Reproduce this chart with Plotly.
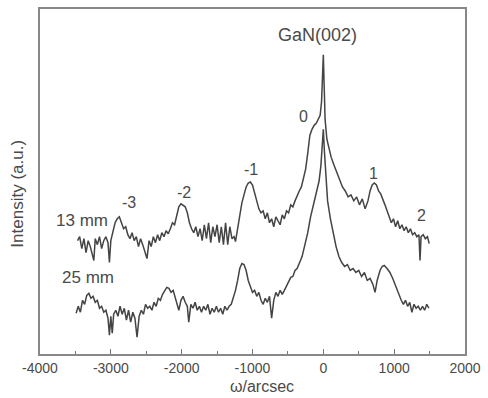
import plotly.graph_objects as go

# 13 mm curve (upper)
x_13mm = [-3470, -3440, -3410, -3380, -3350, -3320, -3290, -3240, -3220, -3190,
          -3160, -3130, -3100, -3070, -3040, -3020, -3000, -2970, -2940, -2910,
          -2880, -2850, -2820, -2790, -2760, -2730, -2700, -2670, -2640, -2610,
          -2580, -2550, -2520, -2490, -2460, -2430, -2400, -2370, -2340, -2310,
          -2280, -2250, -2220, -2190, -2160, -2130, -2100, -2070, -2040, -2010,
          -1980, -1950, -1920, -1890, -1860, -1830, -1800, -1770, -1740, -1710,
          -1680, -1650, -1620, -1590, -1560, -1530, -1500, -1470, -1440, -1410,
          -1380, -1350, -1320, -1290, -1260, -1240, -1210, -1180, -1150, -1120,
          -1090, -1060, -1030, -1000, -970, -940, -910, -880, -850, -820,
          -790, -760, -730, -700, -670, -640, -610, -580, -550, -520,
          -490, -460, -430, -400, -370, -340, -310, -280, -250, -220,
          -190, -160, -130, -100, -70, -45, -25, -10, 0, 10,
          25, 50, 80, 110, 150, 190, 230, 270, 310, 350,
          390, 430, 470, 510, 550, 590, 630, 660, 690, 720,
          750, 780, 810, 840, 870, 900, 930, 960, 990, 1020,
          1050, 1080, 1110, 1140, 1170, 1200, 1230, 1260, 1290, 1320,
          1350, 1365, 1380, 1410, 1440, 1470, 1495]
y_13mm = [114, 118, 106, 116, 102, 114, 108, 94, 116, 110,
          118, 106, 114, 118, 112, 92, 114, 122, 132, 136,
          138, 132, 126, 128, 120, 116, 122, 114, 118, 108,
          116, 110, 102, 96, 114, 108, 118, 112, 120, 114,
          122, 118, 124, 121, 126, 132, 130, 140, 148, 151,
          149, 148, 142, 132, 126, 122, 128, 118, 126, 114,
          130, 116, 132, 112, 128, 118, 130, 112, 128, 110,
          132, 110, 128, 116, 118, 113, 126, 140, 152, 160,
          168, 172, 173, 170, 162, 152, 146, 142, 144, 136,
          142, 132, 136, 128, 138, 134, 130, 140, 136, 144,
          142, 150, 148, 154, 160, 164, 168, 176, 186, 202,
          220, 226, 230, 232, 236, 240, 254, 279, 301, 274,
          236, 216, 206, 198, 190, 182, 174, 168, 164, 158,
          160, 154, 158, 150, 156, 146, 154, 164, 170, 172,
          170, 164, 161, 156, 150, 144, 138, 132, 136, 128,
          134, 126, 130, 124, 128, 122, 126, 120, 122, 118,
          120, 94, 118, 120, 116, 118, 111]

# 25 mm curve (lower)
x_25mm = [-3490, -3460, -3430, -3400, -3370, -3340, -3310, -3280, -3250, -3220,
          -3190, -3160, -3130, -3100, -3070, -3040, -3020, -3000, -2980, -2960,
          -2930, -2900, -2870, -2840, -2810, -2780, -2750, -2720, -2690, -2660,
          -2630, -2600, -2570, -2540, -2510, -2480, -2450, -2420, -2390, -2360,
          -2330, -2300, -2270, -2240, -2210, -2180, -2150, -2120, -2090, -2060,
          -2040, -2010, -1980, -1950, -1920, -1900, -1870, -1840, -1810, -1780,
          -1750, -1720, -1690, -1660, -1630, -1600, -1570, -1540, -1510, -1480,
          -1450, -1420, -1390, -1360, -1330, -1300, -1270, -1240, -1210, -1180,
          -1150, -1120, -1090, -1060, -1030, -1000, -970, -940, -910, -880,
          -850, -820, -790, -760, -730, -700, -670, -640, -610, -580,
          -550, -520, -490, -460, -430, -400, -370, -340, -300, -260,
          -220, -180, -140, -100, -60, -35, -15, 0, 15, 35,
          60, 100, 140, 180, 220, 260, 300, 340, 380, 420,
          460, 500, 540, 580, 620, 660, 700, 730, 760, 800,
          830, 860, 900, 940, 980, 1020, 1060, 1100, 1130, 1160,
          1190, 1220, 1250, 1280, 1310, 1340, 1370, 1400, 1430, 1460,
          1490]
y_25mm = [41, 48, 42, 54, 50, 59, 61, 56, 58, 52,
          54, 46, 48, 42, 44, 36, 19, 38, 21, 40,
          44, 38, 48, 40, 46, 34, 44, 32, 42, 36,
          17, 38, 44, 40, 50, 46, 48, 44, 52, 48,
          56, 54, 60, 64, 67, 66, 62, 64, 56, 48,
          44, 54, 58, 52, 48, 32, 50, 46, 52, 44,
          48, 42, 48, 44, 50, 40, 46, 42, 48, 42,
          46, 40, 48, 44, 48, 50, 56, 64, 74, 86,
          91, 90, 84, 74, 68, 62, 64, 58, 62, 54,
          50, 56, 52, 58, 36, 54, 62, 58, 64, 60,
          64, 68, 72, 77, 78, 84, 86, 92, 98, 110,
          122, 138, 151, 162, 174, 189, 214, 226, 204, 179,
          154, 136, 120, 108, 98, 92, 88, 90, 84, 86,
          82, 84, 78, 82, 74, 76, 70, 62, 74, 84,
          88, 89, 86, 82, 76, 68, 60, 54, 50, 54,
          48, 52, 42, 50, 46, 48, 44, 48, 44, 50,
          46]

x_ticks = [-4000, -3000, -2000, -1000, 0, 1000, 2000]
x_ticktext = ["-4000", "-3000", "-2000", "-1000", "0", "1000", "2000"]

# peak labels
peak_labels = ["-3", "-2", "-1", "0", "1", "2"]
peak_x = [-2741, -1972, -1021, -280, 713, 1385]
peak_y = [152, 162, 186, 239, 182, 139]

series_labels = ["13 mm", "25 mm"]
series_lx = [-3413, -3329]
series_ly = [134, 77]

line_col = "#444444"
txt_col = "#4a4a4a"
font_fam = "Liberation Sans, Arial, sans-serif"

fig = go.Figure()
fig.add_trace(go.Scatter(x=x_13mm, y=y_13mm, mode="lines",
                         line=dict(color=line_col, width=1.5), showlegend=False))
fig.add_trace(go.Scatter(x=x_25mm, y=y_25mm, mode="lines",
                         line=dict(color=line_col, width=1.5), showlegend=False))

for t, xx, yy in zip(peak_labels, peak_x, peak_y):
    fig.add_annotation(x=xx, y=yy, text=t, showarrow=False,
                       font=dict(size=16, color=txt_col, family=font_fam))
for t, xx, yy in zip(series_labels, series_lx, series_ly):
    fig.add_annotation(x=xx, y=yy, text=t, showarrow=False,
                       font=dict(size=17, color=txt_col, family=font_fam))
fig.add_annotation(x=-84, y=321, text="GaN(002)", showarrow=False,
                   font=dict(size=18, color=txt_col, family=font_fam))

# axis titles
fig.add_annotation(xref="paper", yref="paper", x=0.5 + 10 / 429, y=-33 / 347,
                   text="ω/arcsec", showarrow=False, yanchor="middle",
                   font=dict(size=16, color=txt_col, family=font_fam))
fig.add_annotation(xref="paper", yref="paper", x=-23 / 429, y=0.5 - 12 / 347,
                   text="Intensity (a.u.)", showarrow=False, textangle=-90,
                   xanchor="center", yanchor="middle",
                   font=dict(size=17, color=txt_col, family=font_fam))

fig.update_layout(
    width=488, height=398,
    margin=dict(l=40, r=19, t=7, b=44),
    paper_bgcolor="white", plot_bgcolor="white",
    font=dict(family=font_fam, color=txt_col, size=14),
    xaxis=dict(range=[-4000, 2000], tickvals=x_ticks, ticktext=x_ticktext,
               ticks="inside", ticklen=5, tickcolor="#777777", tickwidth=1.2,
               minor=dict(ticks="inside", ticklen=3, dtick=500,
                          tickcolor="#777777"),
               showline=True, linecolor="#888888", linewidth=1.5,
               mirror=True, showgrid=False, zeroline=False,
               tickfont=dict(size=14, color=txt_col)),
    yaxis=dict(range=[0, 347], showticklabels=False, ticks="",
               showline=True, linecolor="#888888", linewidth=1.5,
               mirror=True, showgrid=False, zeroline=False),
)

fig.write_html("out.html")
